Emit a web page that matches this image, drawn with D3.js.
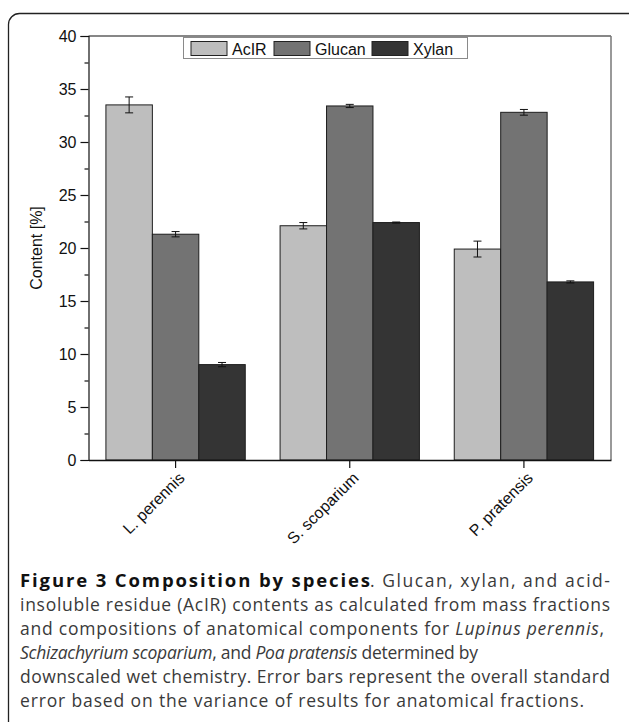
<!DOCTYPE html>
<html>
<head>
<meta charset="utf-8">
<script src="https://cdn.jsdelivr.net/npm/d3@7/dist/d3.min.js"></script>
<style>
  html, body { margin: 0; padding: 0; background: #fff; }
  svg { display: block; }
</style>
</head>
<body>
<svg id="chart" width="629" height="722"></svg>
<script>
// ---- data ----
const categories = ["L. perennis", "S. scoparium", "P. pratensis"];
const seriesNames = ["AcIR", "Glucan", "Xylan"];
const acirValues = [33.5, 22.1, 19.9];
const acirErrors = [0.75, 0.3, 0.75];
const glucanValues = [21.3, 33.4, 32.8];
const glucanErrors = [0.25, 0.15, 0.27];
const xylanValues = [9.0, 22.4, 16.8];
const xylanErrors = [0.2, 0.05, 0.1];
const yTickValues = [0, 5, 10, 15, 20, 25, 30, 35, 40];
const yMinorTicks = [2.5, 7.5, 12.5, 17.5, 22.5, 27.5, 32.5, 37.5];
const yLabel = "Content [%]";
const captionLines = [
  [{t: "Figure 3 Composition by species", b: true, w: 350}, {t: ". Glucan, xylan, and acid-", w: 240}],
  [{t: "insoluble residue (AcIR) contents as calculated from mass fractions"}],
  [{t: "and compositions of anatomical components for "}, {t: "Lupinus perennis", i: true}, {t: ","}],
  [{t: "Schizachyrium scoparium", i: true}, {t: ", and "}, {t: "Poa pratensis", i: true}, {t: " determined by"}],
  [{t: "downscaled wet chemistry. Error bars represent the overall standard"}],
  [{t: "error based on the variance of results for anatomical fractions."}]
];
const captionLineWidths = [null, 590, 584, 458, 590, 564];

const seriesValues = [acirValues, glucanValues, xylanValues];
const seriesErrors = [acirErrors, glucanErrors, xylanErrors];
const colors = ["#bebebe", "#737373", "#343434"];

const rows = categories.map((c, i) => ({
  cat: c,
  items: seriesNames.map((s, j) => ({ s, v: seriesValues[j][i], e: seriesErrors[j][i] }))
}));

const svg = d3.select("#chart");
const font = "'Liberation Sans', Arial, sans-serif";

// outer rounded frame
svg.append("rect")
  .attr("x", 8.5).attr("y", 13.5)
  .attr("width", 640).attr("height", 740)
  .attr("rx", 11).attr("ry", 11)
  .attr("fill", "none").attr("stroke", "#222").attr("stroke-width", 1.3);

const L = 88.5, R = 611, T = 36, B = 460;

const x0 = d3.scaleBand().domain(categories).range([L, R]).paddingInner(0.2).paddingOuter(0.1);
const x1 = d3.scaleBand().domain(seriesNames).range([0, x0.bandwidth()]);
const y = d3.scaleLinear().domain([0, 40]).range([B, T]);

// bars
const g = svg.append("g");
const groups = g.selectAll("g.grp").data(rows).join("g")
  .attr("transform", d => `translate(${x0(d.cat)},0)`);

groups.selectAll("rect").data(d => d.items).join("rect")
  .attr("x", d => x1(d.s))
  .attr("y", d => y(d.v))
  .attr("width", x1.bandwidth())
  .attr("height", d => y(0) - y(d.v))
  .attr("fill", (d, j) => colors[j])
  .attr("stroke", "#1e1e1e").attr("stroke-width", 1);

// error bars
const eb = groups.selectAll("g.err").data(d => d.items).join("g")
  .attr("stroke", "#111").attr("stroke-width", 1);
eb.append("line")
  .attr("x1", d => x1(d.s) + x1.bandwidth() / 2)
  .attr("x2", d => x1(d.s) + x1.bandwidth() / 2)
  .attr("y1", d => y(d.v + d.e)).attr("y2", d => y(d.v - d.e));
eb.append("line")
  .attr("x1", d => x1(d.s) + x1.bandwidth() / 2 - 4)
  .attr("x2", d => x1(d.s) + x1.bandwidth() / 2 + 4)
  .attr("y1", d => y(d.v + d.e)).attr("y2", d => y(d.v + d.e));
eb.append("line")
  .attr("x1", d => x1(d.s) + x1.bandwidth() / 2 - 4)
  .attr("x2", d => x1(d.s) + x1.bandwidth() / 2 + 4)
  .attr("y1", d => y(d.v - d.e)).attr("y2", d => y(d.v - d.e));

// plot frame top & right
svg.append("line").attr("x1", L).attr("x2", R).attr("y1", T).attr("y2", T)
  .attr("stroke", "#111").attr("stroke-width", 1.2);
svg.append("line").attr("x1", R).attr("x2", R).attr("y1", T).attr("y2", B)
  .attr("stroke", "#777").attr("stroke-width", 1.5);

// y axis
const yAxis = svg.append("g").attr("transform", `translate(${L},0)`)
  .call(d3.axisLeft(y).tickValues(yTickValues).tickSize(8).tickPadding(4).tickFormat(d3.format("d")));
yAxis.select(".domain").attr("stroke", "#111").attr("stroke-width", 1.2);
yAxis.selectAll(".tick line").attr("stroke", "#111").attr("stroke-width", 1.2);
yAxis.selectAll(".tick text").attr("font-family", font).attr("font-size", 16).attr("fill", "#111");
const yMinor = svg.append("g").attr("transform", `translate(${L},0)`)
  .call(d3.axisLeft(y).tickValues(yMinorTicks).tickSize(4).tickFormat(""));
yMinor.select(".domain").remove();
yMinor.selectAll(".tick line").attr("stroke", "#111").attr("stroke-width", 1.2);

// x axis
const xAxis = svg.append("g").attr("transform", `translate(0,${B})`)
  .call(d3.axisBottom(x0).tickSize(8).tickSizeOuter(0));
xAxis.select(".domain").attr("stroke", "#111").attr("stroke-width", 1.5);
xAxis.selectAll(".tick line").attr("stroke", "#111").attr("stroke-width", 1.2);
xAxis.selectAll(".tick text")
  .attr("font-family", font).attr("font-size", 16).attr("fill", "#111")
  .attr("text-anchor", "end")
  .attr("dy", 0).attr("y", 0)
  .attr("transform", "translate(10,19) rotate(-45)");

// y label
svg.append("text")
  .attr("transform", `translate(42,${(T + B) / 2}) rotate(-90)`)
  .attr("text-anchor", "middle")
  .attr("font-family", font).attr("font-size", 16).attr("fill", "#111")
  .text(yLabel);

// legend
const lg = svg.append("g");
lg.append("rect").attr("x", 183.5).attr("y", 37.5).attr("width", 284).attr("height", 21)
  .attr("fill", "#fff").attr("stroke", "#8a8a8a").attr("stroke-width", 1);
const legendX = [191, 274, 372];
seriesNames.forEach((s, j) => {
  lg.append("rect").attr("x", legendX[j]).attr("y", 41.5).attr("width", 36).attr("height", 14)
    .attr("fill", colors[j]).attr("stroke", "#222").attr("stroke-width", 1);
  lg.append("text").attr("x", legendX[j] + 41).attr("y", 54.5)
    .attr("font-family", font).attr("font-size", 16).attr("fill", "#111")
    .text(s);
});

// caption
const cap = svg.append("g")
  .attr("font-family", "'Open Sans', 'Noto Sans', sans-serif")
  .attr("font-size", 17.5).attr("fill", "#3a3a3a");
captionLines.forEach((line, k) => {
  const t = cap.append("text").attr("x", 20).attr("y", 587 + k * 24);
  if (captionLineWidths[k]) t.attr("textLength", captionLineWidths[k]).attr("lengthAdjust", "spacing");
  let xs = 20;
  line.forEach(seg => {
    const ts = t.append("tspan")
      .attr("font-weight", seg.b ? "bold" : null)
      .attr("font-style", seg.i ? "italic" : null)
      .attr("font-size", seg.b ? 18.5 : null)
      .attr("fill", seg.b ? "#111" : null)
      .text(seg.t);
    if (seg.w) {
      ts.attr("x", xs).attr("textLength", seg.w).attr("lengthAdjust", "spacing");
      xs += seg.w;
    }
  });
});
</script>
</body>
</html>
